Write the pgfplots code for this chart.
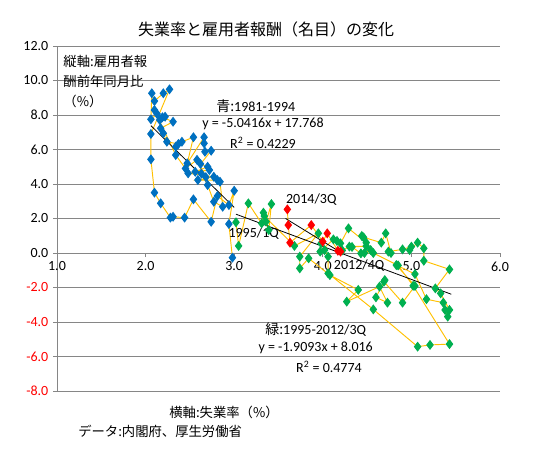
\documentclass[border=0pt]{standalone}
\usepackage{pgfplots}
\pgfplotsset{compat=1.18}
\usepackage{fontspec}
\setmainfont{Carlito}
\newfontfamily\cjk{Noto Sans CJK JP}
\definecolor{linec}{RGB}{255,192,0}
\definecolor{blueM}{RGB}{0,112,192}
\definecolor{greenM}{RGB}{0,176,80}
\definecolor{redM}{RGB}{255,0,0}
\definecolor{gridc}{RGB}{134,134,134}
\begin{document}
\begin{tikzpicture}[x=1pt,y=1pt]
\useasboundingbox (0,0) rectangle (414.75,343.5);
\begin{axis}[
  at={(42.75pt,50.25pt)}, anchor=south west,
  scale only axis, width=332.25pt, height=258.75pt,
  xmin=1, xmax=6, ymin=-8, ymax=12,
  axis x line=middle, axis y line=left,
  axis line style={-, gridc, line width=0.6pt},
  hide obscured x ticks=false,
  xtick={1,2,3,4,5,6},
  xticklabels={1.0,2.0,3.0,4.0,5.0,6.0},
  ytick={-8,-6,-4,-2,0,2,4,6,8,10,12},
  yticklabels={{\textcolor{redM}{-8.0}},{\textcolor{redM}{-6.0}},{\textcolor{redM}{-4.0}},{\textcolor{redM}{-2.0}},0.0,2.0,4.0,6.0,8.0,10.0,12.0},
  ymajorgrids, major grid style={gridc, line width=0.6pt},
  tick align=outside, major tick length=3pt,
  tick style={gridc, line width=0.6pt},
  ticklabel style={font=\fontsize{10.5}{12}\selectfont},
  /pgf/number format/assume math mode=true,
  clip=false,
]
% blue 1981-1994
\addplot[color=linec, line width=0.7pt, mark=diamond*, mark size=3.2pt, mark options={draw=blueM, fill=blueM, solid}] table {
x y
2.16 7.71
2.22 7.90
2.19 7.87
2.31 7.61
2.17 7.23
2.20 6.94
2.24 6.45
2.37 6.32
2.34 6.16
2.41 6.45
2.54 6.71
2.47 5.20
2.66 6.71
2.66 6.36
2.67 5.87
2.74 5.93
2.62 5.16
2.70 5.00
2.56 4.71
2.72 4.81
2.48 4.62
2.77 4.42
2.59 4.23
2.81 4.23
2.84 4.13
2.87 2.68
2.77 2.97
2.70 3.94
2.63 4.60
2.68 4.40
2.58 5.40
2.45 4.90
2.34 5.68
2.10 8.29
2.13 8.06
2.06 7.75
2.07 9.26
2.10 8.81
2.20 9.26
2.27 9.49
2.06 6.90
2.06 5.43
2.10 3.50
2.17 2.88
2.28 2.05
2.31 2.10
2.44 2.05
2.54 3.11
2.74 1.81
2.81 3.30
2.94 2.78
3.00 3.61
2.94 1.68
2.98 -0.27
};
% green 1995-2012/3Q
\addplot[color=linec, line width=0.7pt, mark=diamond*, mark size=3.2pt, mark options={draw=greenM, fill=greenM, solid}] table {
x y
3.02 1.78
3.05 0.41
3.16 2.88
3.31 1.72
3.33 2.34
3.36 1.82
3.42 2.84
3.39 1.33
3.34 2.14
3.68 0.41
3.95 1.14
3.74 -0.21
3.74 -0.89
3.84 -0.31
4.08 -1.28
4.40 -2.14
4.27 -2.82
4.64 -1.95
4.73 -2.88
4.60 -2.57
4.70 -1.57
4.69 -1.66
4.90 -2.88
5.04 -1.91
4.83 -0.70
5.04 -1.22
5.17 -2.68
5.36 -2.88
5.38 -3.30
5.41 -3.69
5.43 -3.30
5.33 -2.34
5.27 -2.05
5.43 -0.95
5.14 -0.45
5.14 0.27
5.07 0.60
4.98 0.17
5.00 0.37
4.90 0.21
4.74 0.08
4.77 0.00
4.71 1.14
4.66 0.60
4.46 0.91
4.44 0.99
4.49 0.60
4.29 1.43
4.20 0.56
4.16 0.70
4.12 0.79
3.97 0.08
3.98 0.56
4.02 0.17
4.06 -0.21
4.06 -1.18
4.57 -3.27
5.07 -5.43
5.21 -5.33
5.43 -5.28
5.02 -1.90
4.85 -0.72
4.57 0.00
4.47 0.00
4.54 0.17
4.43 -0.02
4.33 0.35
4.49 0.40
4.30 0.37
4.22 0.15
};
% red 2012/4Q-2014/3Q
\addplot[color=linec, line width=0.7pt, mark=diamond*, mark size=3.2pt, mark options={draw=redM, fill=redM, solid}] table {
x y
4.20 0.08
4.17 0.13
4.05 1.14
4.00 0.66
3.87 1.62
3.63 0.60
3.61 1.62
3.60 2.53
};
% trend lines
\addplot[black, line width=0.6pt, mark=none] coordinates {(2.06,7.382) (3.00,2.643)};
\addplot[black, line width=0.6pt, mark=none] coordinates {(3.02,2.250) (5.45,-2.390)};
\addplot[black, line width=0.6pt, mark=none] coordinates {(3.58,2.00) (4.22,-0.02)};
% annotations
\node[font=\cjk\fontsize{12}{13}\selectfont] at (axis cs:3.36,12.95) {失業率と雇用者報酬（名目）の変化};
\node[anchor=north west, align=left, inner sep=0pt, font=\cjk\fontsize{10}{15}\selectfont] at (axis cs:1.07,11.45) {縦軸:雇用者報\\酬前年同月比\\（\%）};
\node[anchor=west, inner sep=0pt, font=\fontsize{10.5}{12}\selectfont] at (axis cs:2.795,8.52) {{\cjk 青:}1981-1994};
\node[font=\fontsize{10.5}{12}\selectfont] at (axis cs:3.325,7.48) {y = -5.0416x + 17.768};
\node[font=\fontsize{10.5}{12}\selectfont] at (axis cs:3.325,6.38) {R\textsuperscript{2} = 0.4229};
\node[font=\fontsize{10.5}{12}\selectfont] at (axis cs:3.87,3.07) {2014/3Q};
\node[font=\fontsize{10.5}{12}\selectfont] at (axis cs:3.22,1.14) {1995/1Q};
\node[font=\fontsize{10.5}{12}\selectfont] at (axis cs:4.41,-0.70) {2012/4Q};
\node[font=\fontsize{10.5}{12}\selectfont] at (axis cs:3.92,-4.46) {{\cjk 緑:}1995-2012/3Q};
\node[font=\fontsize{10.5}{12}\selectfont] at (axis cs:3.92,-5.51) {y = -1.9093x + 8.016};
\node[font=\fontsize{10.5}{12}\selectfont] at (axis cs:4.07,-6.61) {R\textsuperscript{2} = 0.4774};
\node[font=\cjk\fontsize{10}{12}\selectfont] at (axis cs:2.885,-9.22) {横軸:失業率（\%）};
\node[anchor=west, inner sep=0pt, font=\cjk\fontsize{10}{12}\selectfont] at (axis cs:1.237,-10.32) {データ:内閣府、厚生労働省};
\end{axis}
\end{tikzpicture}
\end{document}
